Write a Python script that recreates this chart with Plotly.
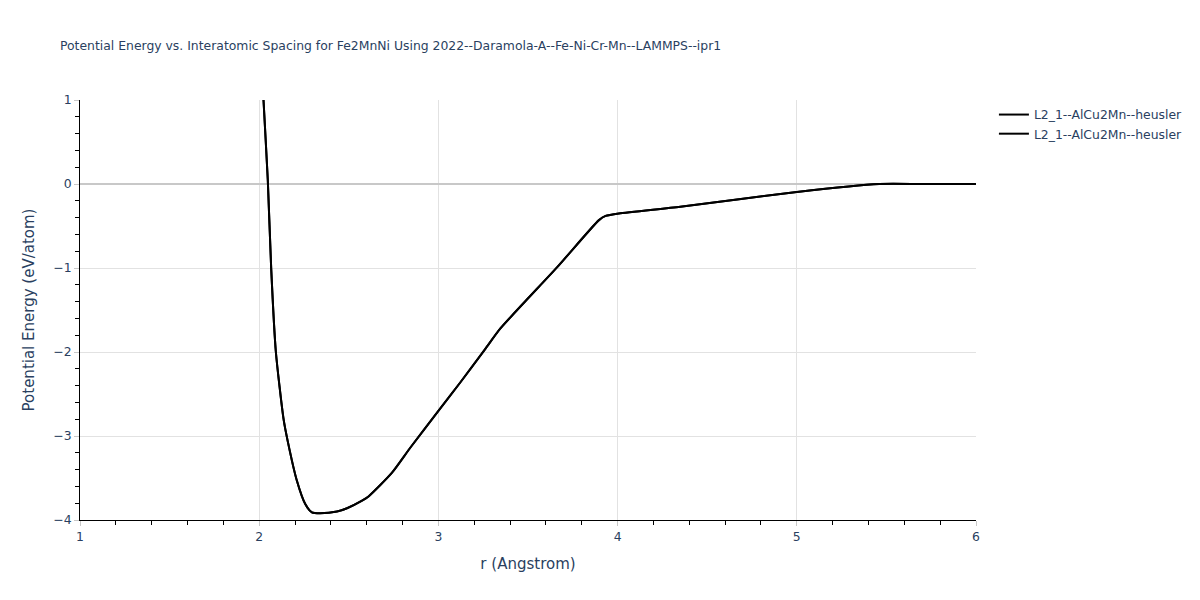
import plotly.graph_objects as go

r_vals = [2.00, 2.024, 2.048, 2.067, 2.093, 2.136, 2.160, 2.210, 2.257, 2.294, 2.340,
          2.434, 2.490, 2.574, 2.610, 2.740, 2.844, 3.000, 3.123, 3.263, 3.346, 3.663,
          3.896, 3.933, 4.007, 4.350, 5.000, 5.460, 5.700, 6.000]
energy_vals = [2.00, 1.00, 0.045, -1.01, -2.00, -2.80, -3.07, -3.53, -3.81, -3.91, -3.92,
               -3.90, -3.86, -3.77, -3.72, -3.44, -3.137, -2.70, -2.36, -1.96, -1.72, -0.99,
               -0.43, -0.38, -0.35, -0.27, -0.094, 0.0, 0.0, 0.0]

series_names = ["L2_1--AlCu2Mn--heusler", "L2_1--AlCu2Mn--heusler"]

x_ticks = [1, 2, 3, 4, 5, 6]
y_ticks = [1, 0, -1, -2, -3, -4]

fig = go.Figure()
for name in series_names:
    fig.add_trace(go.Scatter(x=r_vals, y=energy_vals, mode="lines", name=name,
                             line=dict(color="black", width=2, shape="spline", smoothing=0.6)))

fig.update_layout(
    template="plotly",
    width=1200, height=600,
    plot_bgcolor="white", paper_bgcolor="white",
    font=dict(family="Verdana, DejaVu Sans, sans-serif", size=12.4),
    title=dict(text="Potential Energy vs. Interatomic Spacing for Fe2MnNi Using 2022--Daramola-A--Fe-Ni-Cr-Mn--LAMMPS--ipr1",
               font=dict(size=12.4)),
    showlegend=True,
)
fig.update_xaxes(title_text="r (Angstrom)", range=[1, 6], tickvals=x_ticks,
                 showline=True, linecolor="black", linewidth=1,
                 showgrid=True, gridcolor="#e2e2e2", zeroline=False,
                 ticks="outside", tickcolor="#c8c8c8", ticklen=5,
                 minor=dict(ticks="outside", dtick=0.2, tickcolor="black", ticklen=4, showgrid=False))
fig.update_yaxes(title_text="Potential Energy (eV/atom)", range=[-4, 1], tickvals=y_ticks,
                 showline=True, linecolor="black", linewidth=1,
                 showgrid=True, gridcolor="#e2e2e2", zeroline=True, zerolinecolor="#c8c8c8", zerolinewidth=2,
                 ticks="outside", tickcolor="#c8c8c8", ticklen=5,
                 minor=dict(ticks="outside", dtick=0.2, tickcolor="black", ticklen=4, showgrid=False))

fig.write_html("out.html", config={"displayModeBar": False},
               post_script="document.body.style.margin='0';")
